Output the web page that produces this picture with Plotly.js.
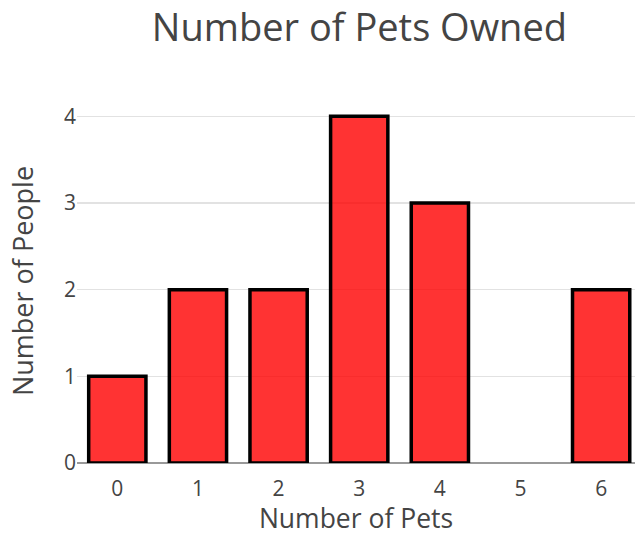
<!DOCTYPE html>
<html>
<head>
<meta charset="utf-8">
<script src="https://cdn.plot.ly/plotly-3.0.1.min.js"></script>
<style>html,body{margin:0;padding:0;background:#fff;}</style>
</head>
<body>
<div id="chart" style="width:635px;height:536px;"></div>
<script>
const petCounts = [0, 1, 2, 3, 4, 5, 6];
const peopleCounts = [1, 2, 2, 4, 3, 0, 2];
const yTicks = [0, 1, 2, 3, 4];

const trace = {
  type: 'bar',
  x: petCounts,
  y: peopleCounts,
  marker: {
    color: 'rgba(255,0,0,0.8)',
    line: {color: '#000', width: peopleCounts.map(v => v > 0 ? 3.5 : 0)}
  },
  hoverinfo: 'x+y'
};

const layout = {
  width: 635,
  height: 536,
  margin: {l: 77, r: 0, t: 99, b: 73},
  paper_bgcolor: '#fff',
  plot_bgcolor: '#fff',
  font: {family: '"Open Sans", verdana, arial, sans-serif', color: '#444'},
  title: {
    text: 'Number of Pets Owned',
    font: {size: 38, color: '#444'},
    x: 0.566, xanchor: 'center',
    y: 0.948, yanchor: 'middle', yref: 'container'
  },
  bargap: 0.29,
  showlegend: false,
  xaxis: {
    range: [-0.5, 6.42],
    tickvals: petCounts,
    ticktext: petCounts.map(String),
    showgrid: false,
    zeroline: false,
    showline: false,
    ticks: '',
    ticklabelstandoff: 11,
    tickfont: {size: 21},
    title: {text: 'Number of Pets', font: {size: 26.5}, standoff: 14}
  },
  yaxis: {
    range: [0, 4.2],
    tickvals: yTicks,
    showgrid: true,
    gridcolor: '#e2e2e2',
    gridwidth: 1.5,
    zeroline: true,
    zerolinecolor: '#999',
    zerolinewidth: 2,
    ticks: '',
    tickfont: {size: 21},
    title: {text: 'Number of People', font: {size: 27}, standoff: 22}
  }
};

Plotly.newPlot('chart', [trace], layout, {displayModeBar: false, staticPlot: true});
</script>
</body>
</html>
